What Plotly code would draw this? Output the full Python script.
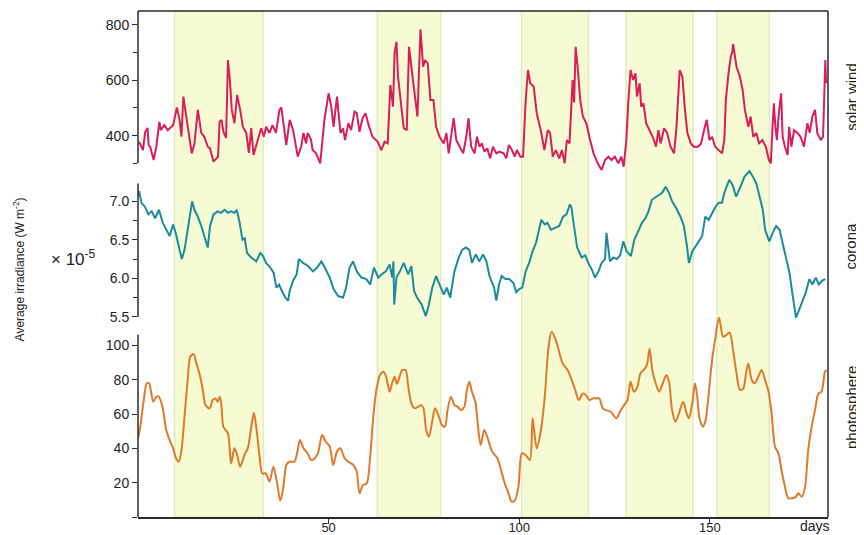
import glob
import plotly.graph_objects as go

# ---------------- data ----------------
sw_day = [0, 0.5, 1.3, 1.9, 2.5, 2.8, 3.2, 4.1, 4.8, 5.6, 6.0, 6.9, 7.8, 8.6, 9.2, 10.2, 10.9, 11.4, 11.9, 13.1,
          14.1, 14.8, 15.7, 16.6, 17.4, 18.3, 18.9, 19.8, 21.0, 21.4, 21.9, 22.4, 23.1, 23.6, 24.1, 24.6, 25.3, 26.0,
          26.8, 27.5, 28.4, 29.1, 29.7, 30.3, 31.4, 32.3, 33.0, 33.6, 34.5, 35.3, 36.2, 37.1, 37.6, 38.9, 39.8, 40.7,
          41.9, 42.8, 43.4, 44.1, 44.5, 45.4, 45.8, 46.7, 47.8, 48.9, 50.0, 50.7, 51.3, 52.2, 53.1, 53.8, 54.3, 55.2,
          55.9, 56.8, 57.4, 58.1, 58.9, 59.7, 60.5, 61.5, 62.9, 63.8, 64.7, 65.5, 66.2, 66.9, 67.3, 67.8, 68.2, 69.1,
          69.7, 70.5, 71.1, 71.7, 72.6, 73.3, 74.1, 74.8, 75.3, 76.0, 76.7, 77.5, 78.2, 79.1, 80.2, 80.9, 81.5, 82.2,
          82.8, 83.5, 84.4, 85.3, 86.1, 86.7, 87.4, 88.3, 88.9, 89.6, 90.2, 90.9, 91.6, 92.4, 93.1, 94.0, 94.8, 95.9,
          96.6, 97.3, 98.1, 98.8, 99.4, 100.3, 101.0, 101.7, 102.3, 102.9, 103.8, 104.6, 105.8, 106.6, 107.5, 108.1,
          108.8, 109.6, 110.5, 111.2, 111.9, 112.5, 113.2, 113.6, 114.0, 114.4, 114.8, 115.4, 116.0, 116.7, 117.6,
          118.6, 119.5, 120.6, 121.6, 122.5, 123.4, 124.2, 125.1, 126.0, 126.8, 127.4, 128.1, 128.6, 129.2, 129.9,
          130.5, 130.9, 131.6, 132.0, 132.6, 133.3, 134.2, 135.0, 135.9, 136.5, 137.1, 138.0, 138.8, 139.7, 140.6,
          141.2, 142.1, 142.8, 143.4, 144.1, 145.0, 145.8, 146.9, 147.7, 148.6, 149.2, 149.9, 150.6, 151.4, 152.3,
          153.2, 153.8, 154.2, 155.0, 155.5, 155.9, 156.1, 156.6, 157.0, 157.9, 158.6, 159.2, 160.1, 160.7, 161.4,
          162.2, 162.9, 163.8, 164.7, 165.5, 166.0, 166.4, 166.8, 167.2, 167.6, 168.1, 168.7, 169.1, 169.7, 170.4,
          170.8, 171.4, 172.1, 173.0, 173.8, 174.7, 175.6, 176.2, 176.9, 177.6, 178.2, 179.1, 179.7, 180.3, 180.5]
sw_val = [378, 372, 348, 414, 428, 366, 360, 312, 360, 450, 420, 438, 420, 432, 438, 502, 457, 396, 541, 427,
          336, 370, 493, 410, 396, 360, 354, 306, 324, 450, 457, 414, 392, 673, 601, 493, 445, 547,
          493, 432, 410, 338, 427, 330, 384, 427, 396, 432, 410, 438, 410, 493, 502, 366, 457, 420,
          324, 360, 410, 372, 410, 385, 348, 336, 300, 457, 553, 505, 432, 541, 410, 427, 384, 445,
          420, 487, 481, 414, 463, 481, 438, 396, 378, 348, 378, 372, 583, 505, 697, 739, 614, 493,
          427, 420, 721, 649, 553, 469, 784, 649, 673, 661, 529, 529, 432, 396, 372, 410, 336, 396,
          463, 384, 360, 336, 396, 463, 360, 336, 396, 360, 372, 342, 354, 318, 360, 336, 342, 336,
          318, 366, 348, 324, 348, 324, 324, 529, 637, 589, 577, 481, 410, 348, 420, 410,
          324, 348, 318, 348, 300, 384, 372, 481, 601, 520, 721, 637, 529, 469, 445,
          384, 336, 300, 276, 312, 324, 312, 324, 300, 324, 288, 384, 517, 637, 601,
          625, 541, 589, 505, 517, 445, 420, 396, 360, 420, 372, 427, 410, 360, 336,
          420, 637, 613, 505, 410, 372, 360, 360, 372, 427, 457, 384, 396, 360, 348,
          336, 384, 529, 637, 685, 703, 731, 685, 649, 613, 565, 493, 432, 469, 396,
          410, 372, 384, 360, 312, 300, 420, 517, 432, 384, 481, 553, 396, 360, 330,
          432, 360, 420, 410, 396, 360, 445, 410, 469, 493, 410, 384, 396, 673, 589]

co_day = [0, 0.3, 0.9, 1.8, 2.7, 3.6, 4.5, 5.5, 6.5, 7.4, 8.3, 9.2, 10.0, 10.9, 11.5, 12.2, 13.1, 14.2, 14.8, 15.7,
          16.6, 17.4, 18.3, 18.9, 19.8, 20.9, 21.8, 22.7, 23.6, 24.4, 25.3, 25.9, 26.6, 27.4, 28.0, 28.6, 29.7,
          31.0, 32.1, 32.8, 33.6, 34.7, 35.6, 36.3, 37.0, 37.9, 38.8, 39.4, 39.8, 40.7, 41.6, 42.2, 43.3, 44.6,
          45.9, 47.0, 48.1, 49.0, 50.3, 51.3, 52.5, 53.8, 54.6, 55.5, 56.4, 57.4, 58.6, 59.9, 60.9, 61.9, 63.0,
          63.9, 65.0, 66.0, 66.7, 67.0, 67.2, 67.8, 68.7, 69.7, 70.9, 71.7, 72.4, 73.2, 74.4, 75.5, 76.3, 77.2,
          78.2, 79.1, 80.2, 81.0, 81.9, 83.0, 84.0, 85.0, 86.0, 86.9, 87.6, 88.6, 89.5, 90.5, 91.4, 92.2, 93.4,
          94.0, 94.7, 95.4, 96.4, 97.4, 98.5, 99.2, 100.0, 100.8, 101.7, 102.6, 103.5, 104.4, 105.2, 105.8, 106.7,
          107.4, 108.3, 109.4, 110.5, 111.5, 112.4, 113.3, 113.7, 114.3, 115.2, 116.4, 117.3, 118.1, 119.0, 119.9,
          120.8, 121.6, 122.5, 122.9, 123.8, 124.7, 125.6, 126.5, 127.3, 128.2, 129.3, 130.2, 131.3, 132.2, 133.1,
          133.9, 134.8, 136.1, 137.5, 138.4, 139.3, 140.1, 141.0, 142.3, 143.2, 144.0, 144.5, 145.4, 146.2, 147.1,
          148.0, 148.8, 149.7, 150.6, 151.5, 152.3, 153.2, 153.8, 155.1, 156.0, 156.9, 158.2, 159.1, 160.4, 161.3,
          162.2, 163.0, 163.9, 164.5, 165.6, 166.5, 167.4, 168.3, 169.2, 170.0, 170.9, 171.6, 172.6, 173.5, 174.4,
          175.2, 176.1, 176.9, 177.8, 178.6, 179.5, 180.3]
co_val = [7.08, 7.13, 6.98, 6.93, 6.83, 6.87, 6.78, 6.89, 6.72, 6.63, 6.55, 6.70, 6.57, 6.37, 6.25, 6.37, 6.63, 7.00, 6.89, 6.80,
          6.68, 6.55, 6.40, 6.68, 6.83, 6.87, 6.85, 6.89, 6.85, 6.87, 6.85, 6.89, 6.74, 6.50, 6.52, 6.33, 6.27,
          6.22, 6.33, 6.29, 6.20, 6.14, 6.07, 5.88, 5.92, 5.82, 5.74, 5.71, 5.84, 5.97, 6.05, 6.25, 6.20, 6.16,
          6.09, 6.14, 6.22, 6.14, 6.01, 5.86, 5.77, 5.75, 5.88, 6.14, 6.22, 6.09, 6.01, 5.99, 5.92, 6.14, 6.01,
          6.05, 6.09, 6.18, 6.01, 6.22, 5.66, 6.01, 6.09, 6.20, 6.05, 6.16, 5.84, 5.75, 5.66, 5.51, 5.66, 5.88,
          6.03, 5.92, 5.79, 5.88, 5.75, 6.09, 6.25, 6.37, 6.40, 6.37, 6.20, 6.31, 6.22, 6.31, 6.22, 6.03, 5.88,
          5.71, 5.92, 6.03, 5.99, 5.99, 5.94, 5.82, 5.86, 5.88, 6.09, 6.20, 6.35, 6.46, 6.65, 6.76, 6.70,
          6.72, 6.63, 6.65, 6.68, 6.80, 6.83, 6.96, 6.92, 6.70, 6.40, 6.27, 6.30, 6.20, 6.12, 6.01,
          6.09, 6.20, 6.25, 6.59, 6.22, 6.27, 6.25, 6.30, 6.48, 6.35, 6.29, 6.50, 6.63, 6.72, 6.78,
          6.87, 7.02, 7.06, 7.11, 7.19, 7.11, 7.00, 6.93, 6.80, 6.68, 6.42, 6.20, 6.35, 6.42, 6.48,
          6.55, 6.80, 6.76, 6.85, 6.93, 6.98, 6.98, 7.11, 7.28, 7.21, 7.06, 7.21, 7.32, 7.39, 7.32,
          7.23, 7.06, 6.89, 6.63, 6.48, 6.59, 6.68, 6.63, 6.44, 6.29, 6.07, 5.82, 5.49, 5.60, 5.71,
          5.82, 5.99, 5.92, 6.01, 5.92, 5.97, 5.99]

ph_day = [0, 0.6, 1.4, 2.3, 2.9, 4.0, 4.8, 5.5, 6.5, 7.4, 8.3, 9.2, 10.0, 10.7, 11.4, 12.2, 13.1, 13.7, 14.6, 15.3,
          16.1, 17.0, 17.7, 18.8, 19.6, 20.3, 20.9, 21.4, 21.8, 22.4, 23.6, 24.4, 25.3, 25.9, 26.8, 27.9, 28.8,
          29.6, 30.4, 31.0, 31.9, 32.6, 33.5, 34.5, 35.5, 36.5, 37.3, 38.1, 38.9, 39.7, 41.0, 41.8, 42.5, 43.4,
          44.5, 45.4, 46.3, 47.2, 48.3, 49.2, 50.3, 51.2, 52.2, 53.1, 54.2, 55.2, 56.5, 57.4, 58.1, 59.0, 60.0,
          60.9, 61.8, 62.6, 63.5, 64.4, 65.1, 66.0, 66.6, 67.3, 67.9, 68.6, 69.3, 70.2, 70.8, 71.7, 72.6, 73.5,
          74.3, 74.9, 75.6, 76.3, 77.1, 77.9, 78.8, 79.7, 80.5, 81.2, 82.1, 83.0, 83.8, 84.7, 85.6, 86.2, 86.9,
          87.6, 88.5, 89.2, 89.9, 90.8, 91.6, 92.9, 94.3, 95.1, 96.2, 97.2, 98.0, 98.9, 99.8, 100.7, 101.7, 102.8,
          103.5, 103.9, 104.6, 105.7, 106.7, 107.7, 108.5, 109.6, 111.4, 112.7, 113.6, 114.7, 115.6, 116.7, 117.5,
          118.4, 119.3, 120.1, 121.0, 121.9, 122.7, 124.0, 125.5, 126.4, 127.5, 128.4, 129.2, 130.1, 131.0, 131.8,
          133.0, 133.6, 134.2, 134.9, 135.8, 136.7, 137.5, 138.6, 139.3, 140.1, 141.0, 141.9, 143.0, 143.8, 144.5,
          145.4, 146.1, 146.7, 147.3, 148.2, 148.9, 149.8, 150.6, 151.5, 152.4, 153.5, 154.3, 155.2, 156.1, 157.0,
          157.9, 158.8, 159.5, 160.1, 161.0, 161.8, 162.7, 163.6, 164.5, 165.4, 166.2, 167.1, 168.0, 168.8, 169.7,
          170.6, 171.7, 172.6, 173.2, 174.1, 175.0, 175.8, 176.7, 177.6, 178.5, 179.3, 180.2, 180.6]
ph_val = [45.8, 52.6, 66.2, 77.9, 77.9, 67.2, 70.1, 70.1, 63.3, 50.7, 44.8, 40.0, 34.2, 32.2, 39.0, 58.4, 81.7, 93.4, 94.9, 89.5,
          83.7, 74.0, 65.2, 63.3, 68.1, 69.1, 67.2, 70.1, 67.2, 52.6, 48.7, 31.2, 40.0, 37.1, 29.3, 36.1, 40.0,
          50.7, 60.7, 52.6, 35.1, 25.4, 25.4, 20.6, 29.3, 19.6, 9.5, 16.7, 30.3, 32.2, 32.2, 38.0, 44.8, 40.0,
          37.1, 33.2, 34.1, 37.1, 47.8, 44.0, 41.0, 30.3, 38.1, 40.0, 34.1, 32.2, 30.3, 26.4, 13.8, 18.6, 19.6,
          35.1, 60.4, 75.0, 82.7, 84.6, 81.7, 73.0, 77.6, 81.7, 77.6, 81.7, 85.6, 85.6, 77.6, 66.2, 63.3, 64.3,
          65.2, 63.3, 50.7, 46.8, 54.6, 63.3, 59.4, 53.6, 52.6, 62.3, 70.1, 65.2, 64.3, 62.3, 64.3, 73.0, 78.8,
          73.0, 67.2, 52.6, 41.9, 50.7, 46.8, 38.1, 34.1, 28.4, 19.6, 13.8, 8.9, 9.9, 17.7, 37.1, 36.1, 33.2,
          57.5, 50.7, 40.0, 50.7, 70.1, 99.2, 107.9, 103.0, 89.5, 85.6, 80.8, 74.0, 68.1, 72.0, 71.1,
          68.1, 69.1, 69.1, 69.1, 63.3, 62.3, 61.3, 57.5, 61.3, 65.2, 68.1, 78.8, 73.0, 75.9, 83.7,
          86.6, 89.5, 98.2, 85.6, 77.9, 73.0, 76.9, 82.7, 78.8, 62.3, 55.5, 60.4, 67.2, 61.3, 57.5,
          66.2, 77.9, 70.1, 57.5, 52.6, 56.5, 74.0, 91.5, 105.0, 116.3, 105.0, 106.0, 107.5, 97.3, 83.7,
          74.0, 75.0, 83.7, 89.5, 79.8, 77.9, 81.7, 85.6, 79.8, 73.0, 60.4, 40.9, 37.1, 27.4, 17.7,
          10.9, 10.9, 11.8, 13.8, 11.8, 17.7, 39.0, 52.6, 62.3, 72.0, 73.0, 84.6, 85.6]

shaded_periods = [(9.6, 32.9), (62.8, 79.4), (100.6, 118.2), (128.0, 145.6), (151.8, 165.6)]

x_ticks = [50, 100, 150]
sw_ticks = [400, 600, 800]
co_ticks = [5.5, 6.0, 6.5, 7.0]
co_ticktext = ["5.5", "6.0", "6.5", "7.0"]
ph_ticks = [0, 20, 40, 60, 80, 100]
ph_ticktext = ["", "20", "40", "60", "80", "100"]

# ---------------- fonts ----------------
FONT = "Liberation Sans, Arial, Helvetica, sans-serif"
has_narrow = bool(glob.glob("/usr/share/fonts/**/LiberationSansNarrow*", recursive=True))
if has_narrow:
    NFONT = "Liberation Sans Narrow"
    title_size, side_size = 15, 18
else:
    NFONT = FONT
    title_size, side_size = 12, 15

AX = "#2a2a2a"
XR = [0, 181]

fig = go.Figure()
fig.add_trace(go.Scatter(x=sw_day, y=sw_val, mode="lines", line=dict(color="#d81e5b", width=2),
                         xaxis="x", yaxis="y", showlegend=False))
fig.add_trace(go.Scatter(x=co_day, y=co_val, mode="lines", line=dict(color="#1a8c9e", width=2),
                         xaxis="x2", yaxis="y2", showlegend=False))
fig.add_trace(go.Scatter(x=ph_day, y=ph_val, mode="lines", line=dict(color="#e07a2a", width=2, shape="spline", smoothing=0.8),
                         xaxis="x3", yaxis="y3", showlegend=False))

shapes = []
for a, b in shaded_periods:
    shapes.append(dict(type="rect", xref="x", yref="paper", x0=a, x1=b, y0=0, y1=1,
                       fillcolor="#f6fbd4", line=dict(color="#e3ecbd", width=1.5), layer="below"))
shapes.append(dict(type="line", xref="paper", yref="paper", x0=0, x1=1, y0=1, y1=1, line=dict(color=AX, width=1.5)))
shapes.append(dict(type="line", xref="paper", yref="paper", x0=1, x1=1, y0=0, y1=1, line=dict(color=AX, width=1.5)))
shapes.append(dict(type="line", xref="paper", yref="y", x0=0, x1=0, y0=300, y1=850, line=dict(color=AX, width=1.5)))
shapes.append(dict(type="line", xref="paper", yref="y2", x0=0, x1=0, y0=5.5, y1=7.23, line=dict(color=AX, width=1.5)))
shapes.append(dict(type="line", xref="paper", yref="y3", x0=0, x1=0, y0=0, y1=106.2, line=dict(color=AX, width=1.5)))

tickfont = dict(family=FONT, size=14, color="#222")
common_y = dict(showgrid=False, zeroline=False, showline=False, ticks="outside", ticklen=5,
                tickcolor=AX, tickwidth=1.2, tickfont=tickfont, automargin=False)

fig.update_layout(
    template="none",
    width=856, height=527,
    margin=dict(l=130, r=36, t=3, b=18, autoexpand=False),
    paper_bgcolor="white", plot_bgcolor="rgba(0,0,0,0)",
    font=dict(family=FONT, color="#222"),
    xaxis=dict(domain=[0, 1], range=XR, visible=False, anchor="y", automargin=False),
    xaxis2=dict(domain=[0, 1], range=XR, visible=False, anchor="y2", matches="x", automargin=False),
    xaxis3=dict(domain=[0, 1], range=XR, anchor="y3", matches="x", showgrid=False, zeroline=False,
                showline=True, linecolor=AX, linewidth=1.5, ticks="outside", ticklen=5, tickcolor=AX,
                tickwidth=1.2, tickvals=x_ticks, tickfont=dict(family=FONT, size=13, color="#222"),
                automargin=False, ticklabelstandoff=-7),
    yaxis=dict(domain=[0.676, 1.0], range=[258.1, 850.2], anchor="x", tickvals=sw_ticks,
               minor=dict(tickvals=[300, 500, 700], ticks="outside", ticklen=4, tickcolor=AX, tickwidth=1.2),
               **common_y),
    yaxis2=dict(domain=[0.385, 0.690], range=[5.431, 7.434], anchor="x2", tickvals=co_ticks, ticktext=co_ticktext,
                minor=dict(tickvals=[5.75, 6.25, 6.75], ticks="outside", ticklen=4, tickcolor=AX, tickwidth=1.2),
                **common_y),
    yaxis3=dict(domain=[0.0, 0.405], range=[0, 119.4], anchor="x3", tickvals=ph_ticks, ticktext=ph_ticktext,
                **common_y),
    shapes=shapes,
    annotations=[
        dict(text="Average irradiance (W m<sup>-2</sup>)", xref="paper", yref="paper", x=-0.172, y=0.49,
             textangle=-90, showarrow=False, xanchor="center", yanchor="middle",
             font=dict(family=NFONT, size=title_size, color="#222")),
        dict(text="× 10<sup>-5</sup>", xref="paper", yref="paper", x=-0.0935, y=0.512,
             showarrow=False, xanchor="center", yanchor="middle", font=dict(size=17, color="#222")),
        dict(text="solar wind", xref="paper", yref="paper", x=1.033, y=0.830, textangle=-90,
             showarrow=False, xanchor="center", yanchor="middle", font=dict(family=NFONT, size=side_size, color="#222")),
        dict(text="corona", xref="paper", yref="paper", x=1.033, y=0.536, textangle=-90,
             showarrow=False, xanchor="center", yanchor="middle", font=dict(family=NFONT, size=side_size, color="#222")),
        dict(text="photosphere", xref="paper", yref="paper", x=1.033, y=0.217, textangle=-90,
             showarrow=False, xanchor="center", yanchor="middle", font=dict(family=NFONT, size=side_size, color="#222")),
        dict(text="days", xref="paper", yref="paper", x=0.981, y=-0.018,
             showarrow=False, xanchor="center", yanchor="middle", font=dict(size=14, color="#222")),
    ],
)

fig.write_html("out.html")
